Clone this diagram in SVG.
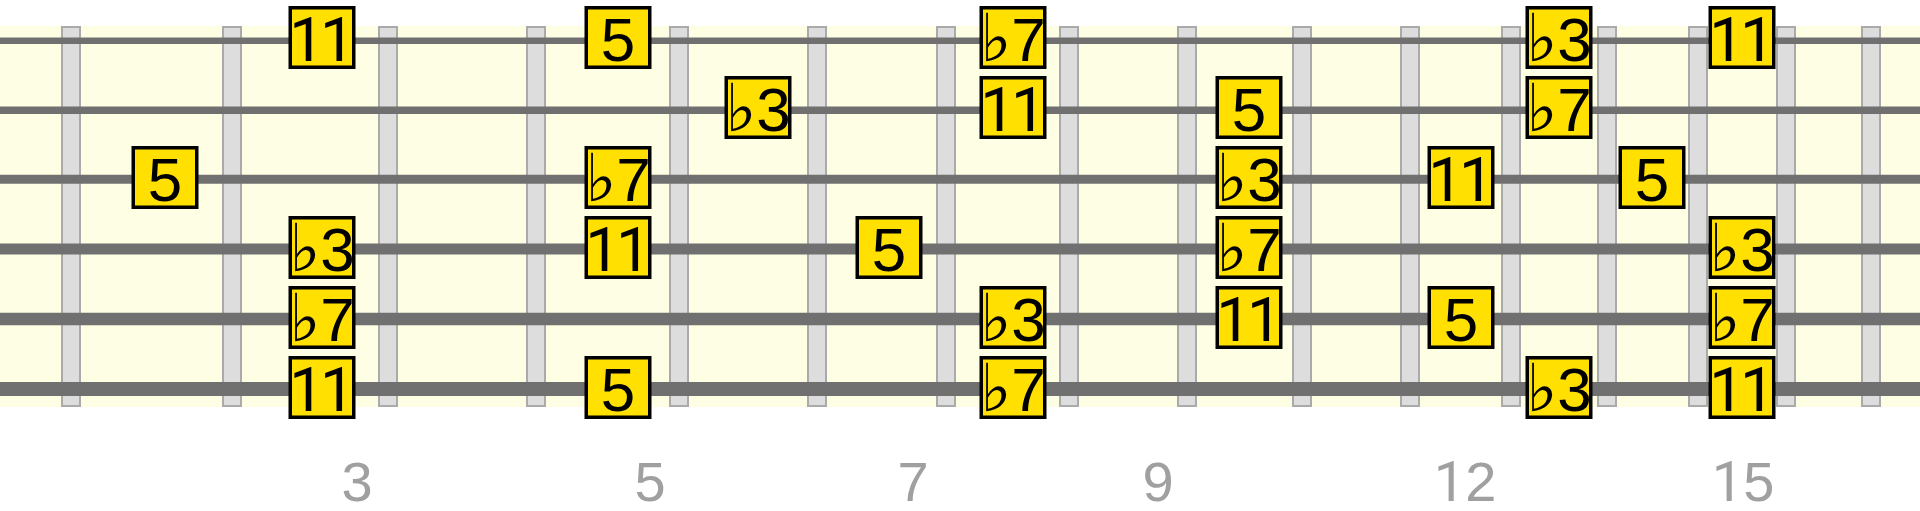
<svg xmlns="http://www.w3.org/2000/svg" width="1920" height="511" viewBox="0 0 1920 511">
<style>
.fret{fill:#dddddd;stroke:#aaaaaa;stroke-width:2}
.str{stroke:#707070;fill:none}
.box{fill:#ffe000;stroke:#000000;stroke-width:3.5}
.lbl{font-family:"Liberation Sans","DejaVu Sans",sans-serif;font-size:62px;fill:#000000;text-anchor:middle}
.fl{font-family:"DejaVu Sans",sans-serif;font-size:66px}
.one{font-family:Roboto,"Liberation Sans",sans-serif}
.num{font-family:"Liberation Sans","DejaVu Sans",sans-serif;font-size:56px;fill:#a0a0a0;text-anchor:middle}
</style>
<defs>
<g id="n"><rect class="box" x="-31.75" y="1.75" width="63.5" height="59.5"/></g>
</defs>
<rect width="1920" height="511" fill="#ffffff"/>
<g id="fretboard">
<rect x="0" y="26" width="1920" height="381" fill="#fefee4"/>
<g id="frets">
<rect class="fret" x="62" y="27" width="18" height="379"/>
<rect class="fret" x="223" y="27" width="18" height="379"/>
<rect class="fret" x="379" y="27" width="18" height="379"/>
<rect class="fret" x="527" y="27" width="18" height="379"/>
<rect class="fret" x="670" y="27" width="18" height="379"/>
<rect class="fret" x="808" y="27" width="18" height="379"/>
<rect class="fret" x="937" y="27" width="18" height="379"/>
<rect class="fret" x="1060" y="27" width="18" height="379"/>
<rect class="fret" x="1178" y="27" width="18" height="379"/>
<rect class="fret" x="1293" y="27" width="18" height="379"/>
<rect class="fret" x="1401" y="27" width="18" height="379"/>
<rect class="fret" x="1502" y="27" width="18" height="379"/>
<rect class="fret" x="1598" y="27" width="18" height="379"/>
<rect class="fret" x="1689" y="27" width="18" height="379"/>
<rect class="fret" x="1777" y="27" width="18" height="379"/>
<rect class="fret" x="1862" y="27" width="18" height="379"/>
</g>
<g id="strings">
<line class="str" x1="0" y1="40.7" x2="1920" y2="40.7" stroke-width="6.5"/>
<line class="str" x1="0" y1="110.2" x2="1920" y2="110.2" stroke-width="7.5"/>
<line class="str" x1="0" y1="179.3" x2="1920" y2="179.3" stroke-width="9"/>
<line class="str" x1="0" y1="249" x2="1920" y2="249" stroke-width="11"/>
<line class="str" x1="0" y1="319" x2="1920" y2="319" stroke-width="12.5"/>
<line class="str" x1="0" y1="389" x2="1920" y2="389" stroke-width="14"/>
</g>
</g>
<g id="connectors"></g>
<g id="nodes">
<g id="s1-f3" transform="translate(322,6)"><use href="#n"/><text class="lbl one" x="0" y="54.7">1<tspan dx="-4">1</tspan></text></g>
<g id="s1-f5" transform="translate(618,6)"><use href="#n"/><text class="lbl" x="0" y="54.7">5</text></g>
<g id="s1-f8" transform="translate(1013,6)"><use href="#n"/><text class="lbl" x="0" y="54.7"><tspan class="fl">♭</tspan>7</text></g>
<g id="s1-f13" transform="translate(1559,6)"><use href="#n"/><text class="lbl" x="0" y="54.7"><tspan class="fl">♭</tspan>3</text></g>
<g id="s1-f15" transform="translate(1742,6)"><use href="#n"/><text class="lbl one" x="0" y="54.7">1<tspan dx="-4">1</tspan></text></g>

<g id="s2-f6" transform="translate(758,76)"><use href="#n"/><text class="lbl" x="0" y="54.7"><tspan class="fl">♭</tspan>3</text></g>
<g id="s2-f8" transform="translate(1013,76)"><use href="#n"/><text class="lbl one" x="0" y="54.7">1<tspan dx="-4">1</tspan></text></g>
<g id="s2-f10" transform="translate(1249,76)"><use href="#n"/><text class="lbl" x="0" y="54.7">5</text></g>
<g id="s2-f13" transform="translate(1559,76)"><use href="#n"/><text class="lbl" x="0" y="54.7"><tspan class="fl">♭</tspan>7</text></g>

<g id="s3-f1" transform="translate(165,146)"><use href="#n"/><text class="lbl" x="0" y="54.7">5</text></g>
<g id="s3-f5" transform="translate(618,146)"><use href="#n"/><text class="lbl" x="0" y="54.7"><tspan class="fl">♭</tspan>7</text></g>
<g id="s3-f10" transform="translate(1249,146)"><use href="#n"/><text class="lbl" x="0" y="54.7"><tspan class="fl">♭</tspan>3</text></g>
<g id="s3-f12" transform="translate(1461,146)"><use href="#n"/><text class="lbl one" x="0" y="54.7">1<tspan dx="-4">1</tspan></text></g>
<g id="s3-f14" transform="translate(1652,146)"><use href="#n"/><text class="lbl" x="0" y="54.7">5</text></g>

<g id="s4-f3" transform="translate(322,216)"><use href="#n"/><text class="lbl" x="0" y="54.7"><tspan class="fl">♭</tspan>3</text></g>
<g id="s4-f5" transform="translate(618,216)"><use href="#n"/><text class="lbl one" x="0" y="54.7">1<tspan dx="-4">1</tspan></text></g>
<g id="s4-f7" transform="translate(889,216)"><use href="#n"/><text class="lbl" x="0" y="54.7">5</text></g>
<g id="s4-f10" transform="translate(1249,216)"><use href="#n"/><text class="lbl" x="0" y="54.7"><tspan class="fl">♭</tspan>7</text></g>
<g id="s4-f15" transform="translate(1742,216)"><use href="#n"/><text class="lbl" x="0" y="54.7"><tspan class="fl">♭</tspan>3</text></g>

<g id="s5-f3" transform="translate(322,286)"><use href="#n"/><text class="lbl" x="0" y="54.7"><tspan class="fl">♭</tspan>7</text></g>
<g id="s5-f8" transform="translate(1013,286)"><use href="#n"/><text class="lbl" x="0" y="54.7"><tspan class="fl">♭</tspan>3</text></g>
<g id="s5-f10" transform="translate(1249,286)"><use href="#n"/><text class="lbl one" x="0" y="54.7">1<tspan dx="-4">1</tspan></text></g>
<g id="s5-f12" transform="translate(1461,286)"><use href="#n"/><text class="lbl" x="0" y="54.7">5</text></g>
<g id="s5-f15" transform="translate(1742,286)"><use href="#n"/><text class="lbl" x="0" y="54.7"><tspan class="fl">♭</tspan>7</text></g>

<g id="s6-f3" transform="translate(322,356)"><use href="#n"/><text class="lbl one" x="0" y="54.7">1<tspan dx="-4">1</tspan></text></g>
<g id="s6-f5" transform="translate(618,356)"><use href="#n"/><text class="lbl" x="0" y="54.7">5</text></g>
<g id="s6-f8" transform="translate(1013,356)"><use href="#n"/><text class="lbl" x="0" y="54.7"><tspan class="fl">♭</tspan>7</text></g>
<g id="s6-f13" transform="translate(1559,356)"><use href="#n"/><text class="lbl" x="0" y="54.7"><tspan class="fl">♭</tspan>3</text></g>
<g id="s6-f15" transform="translate(1742,356)"><use href="#n"/><text class="lbl one" x="0" y="54.7">1<tspan dx="-4">1</tspan></text></g>
</g>
<g id="fret-numbers">
<text class="num" x="357" y="501">3</text>
<text class="num" x="650" y="501">5</text>
<text class="num" x="913" y="501">7</text>
<text class="num" x="1158" y="501">9</text>
<text class="num" x="1465" y="501"><tspan class="one">1</tspan>2</text>
<text class="num" x="1743" y="501"><tspan class="one">1</tspan>5</text>
</g>
</svg>
